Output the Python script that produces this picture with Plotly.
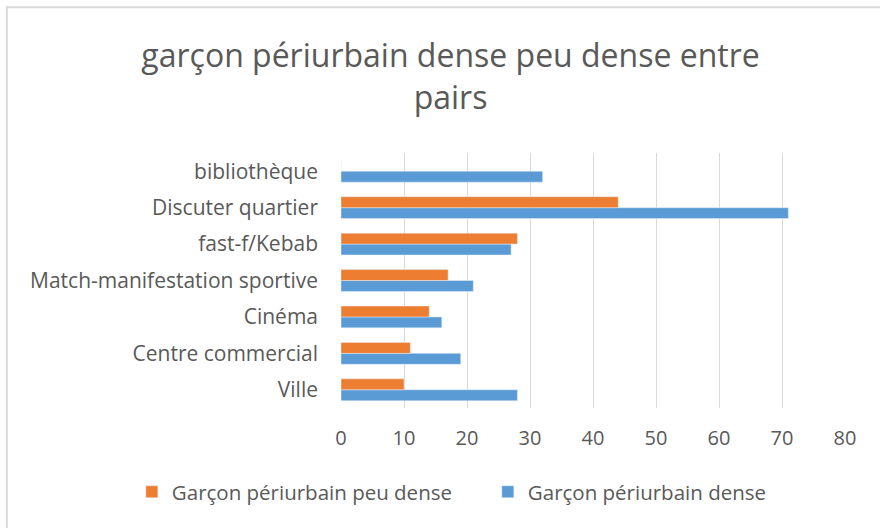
import plotly.graph_objects as go

# Categories, listed bottom to top
categories = ["Ville", "Centre commercial", "Cinéma", "Match-manifestation sportive",
              "fast-f/Kebab", "Discuter quartier", "bibliothèque"]
peu_dense = [10, 11, 14, 17, 28, 44, 0]
dense = [28, 19, 16, 21, 27, 71, 32]
x_ticks = [0, 10, 20, 30, 40, 50, 60, 70, 80]

ORANGE = "#ED7D31"
BLUE = "#5B9BD5"
TEXT = "#595959"
FONT = "Open Sans"

fig = go.Figure()
fig.add_trace(go.Bar(
    y=categories, x=dense, orientation="h", name="Garçon périurbain dense",
    marker=dict(color=BLUE), legendrank=2,
))
fig.add_trace(go.Bar(
    y=categories, x=peu_dense, orientation="h", name="Garçon périurbain peu dense",
    marker=dict(color=ORANGE), legendrank=1,
))

fig.update_layout(
    width=880, height=528,
    margin=dict(l=341, r=35, t=153, b=120, autoexpand=False),
    paper_bgcolor="white", plot_bgcolor="white",
    barmode="group", bargap=0.4, bargroupgap=0,
    font=dict(family=FONT, color=TEXT, size=20),
    title=dict(
        text="garçon périurbain dense peu dense entre<br>pairs",
        x=0.512, xanchor="center", y=0.873, yanchor="middle",
        font=dict(family=FONT, size=32, color=TEXT),
    ),
    xaxis=dict(
        range=[0, 80], tickvals=x_ticks, showgrid=True, gridcolor="#D9D9D9",
        gridwidth=1, zeroline=False, showline=False, ticks="",
        ticklabelstandoff=16, tickfont=dict(size=20, color=TEXT),
    ),
    yaxis=dict(
        categoryorder="array", categoryarray=categories, showgrid=False,
        showline=False, ticks="", ticklabelstandoff=22,
        tickfont=dict(size=21, color=TEXT),
    ),
    legend=dict(
        orientation="h", x=-0.415, xanchor="left", y=-0.329, yanchor="middle",
        font=dict(size=20.5, color=TEXT), itemwidth=30, entrywidth=311,
    ),
    shapes=[dict(
        type="rect", xref="paper", yref="paper",
        x0=-0.663, x1=2, y0=-1, y1=1.572,
        line=dict(color="#D9D9D9", width=2), layer="below",
    )],
)

fig.write_html("out.html")
